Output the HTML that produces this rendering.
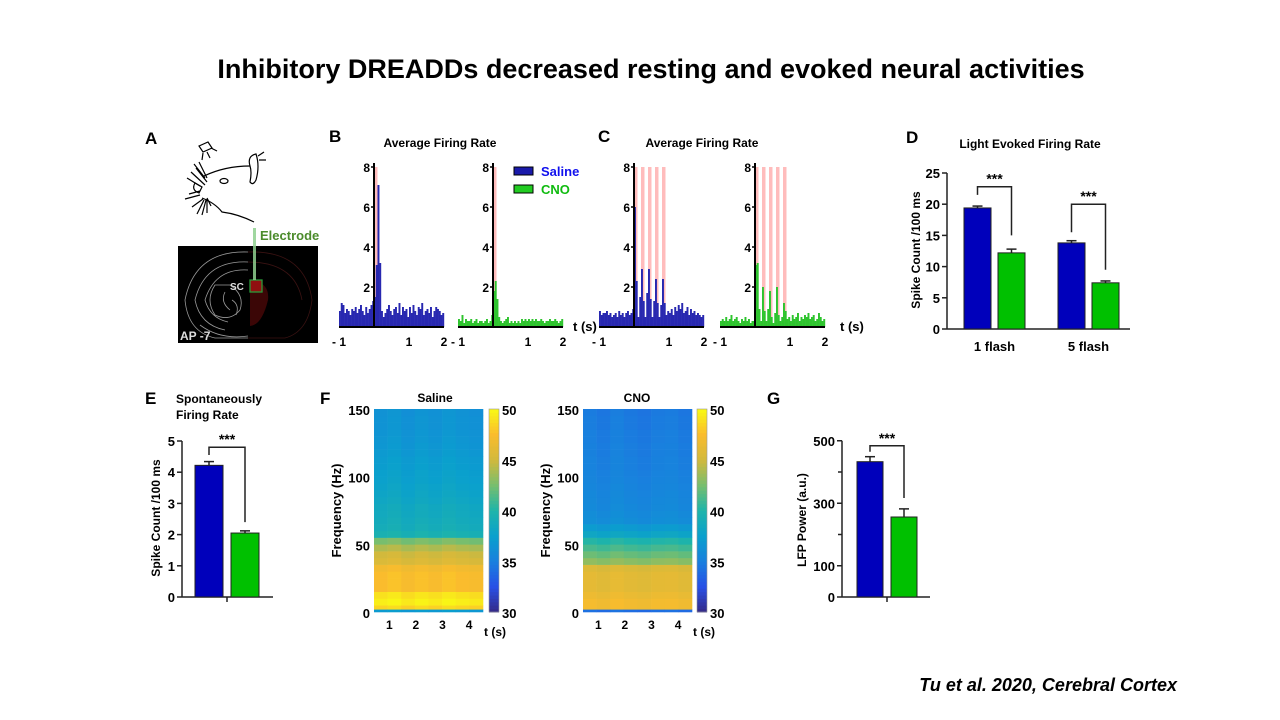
<!DOCTYPE html>
<html><head><meta charset="utf-8"><style>
body{margin:0;background:#fff}
svg{display:block;font-family:"Liberation Sans",Arial,sans-serif}
.b{font-weight:bold}
</style></head><body>
<svg id="s" width="1280" height="720" viewBox="0 0 1280 720">
<text x="651" y="78" text-anchor="middle" class="b" font-size="27">Inhibitory DREADDs decreased resting and evoked neural activities</text>
<g class="b" font-size="17">
<text x="145" y="144">A</text><text x="329" y="142">B</text><text x="598" y="142">C</text><text x="906" y="143">D</text>
<text x="145" y="404">E</text><text x="320" y="404">F</text><text x="767" y="404">G</text></g>
<g id="mouse" fill="none" stroke="#000" stroke-width="1.2">
<path d="M199 146 L208 142 L212 148 L203 152 Z"/><path d="M203 153 L202 160 M207 152 L210 158 M211 148 L217 151"/>
<path d="M204 176 Q225 166 250 166"/>
<path d="M250 166 Q247 156 256 154 Q260 166 256 180 Q253 186 250 182 Q252 172 250 166"/>
<path d="M258 156 L264 152 M259 160 L266 160"/>
<ellipse cx="224" cy="181" rx="4" ry="2.5"/><path d="M195 183 Q191 190 199 193 L202 187 Z"/>
<path d="M202 198 Q215 203 222 212 Q238 214 254 222"/>
<path d="M196 168 L207 182 M191 172 L205 185 M187 178 L200 186 M189 194 L200 191 M185 199 L200 195 M192 207 L203 199 M197 214 L204 200 M202 215 L206 200 M207 213 L207 199 M211 206 L207 198 M194 164 L205 178 M199 162 L207 178"/>
</g>
<g>
<rect x="178" y="246" width="140" height="97" fill="#000"/>
<g fill="none" stroke="#999" stroke-width="0.8">
<path d="M248 252 Q195 250 185 300 Q188 332 215 338 L248 338"/>
<path d="M248 262 Q205 260 195 300 Q200 325 225 330"/>
<path d="M248 270 Q215 268 205 300 Q210 318 228 322"/>
<path d="M215 285 Q205 300 215 315 Q230 322 240 310 Q245 295 230 285 Z"/>
<path d="M225 292 Q220 302 230 310 M232 300 Q240 305 236 315"/>
<path d="M200 325 Q220 340 248 336"/>
</g>
<g fill="none" stroke="#3a1212" stroke-width="0.8"><path d="M248 252 Q305 250 312 300 Q308 332 285 338 L248 338"/><path d="M248 262 Q295 262 302 300"/></g>
<path d="M250 280 Q270 282 268 300 Q262 325 250 326 Z" fill="#4a0808" opacity="0.8"/>
<rect x="250" y="280" width="12" height="12" fill="#901010" stroke="#2a9a3a" stroke-width="1.3"/>
<rect x="253" y="228" width="3" height="52" fill="#8fd08f" opacity="0.85"/>
<text x="230" y="290" fill="#ddd" class="b" font-size="10">SC</text>
<text x="180" y="340" fill="#ddd" class="b" font-size="12">AP -7</text>
<text x="260" y="240" fill="#4b8b2b" class="b" font-size="13">Electrode</text>
</g>
<text x="440" y="147" text-anchor="middle" class="b" font-size="12">Average Firing Rate</text>
<text x="702" y="147" text-anchor="middle" class="b" font-size="12">Average Firing Rate</text>
<g>
<rect x="514" y="167" width="19" height="8" fill="#1a1aaa" stroke="#000"/><text x="541" y="176" fill="#1010ee" class="b" font-size="13">Saline</text>
<rect x="514" y="185" width="19" height="8" fill="#22cc22" stroke="#000"/><text x="541" y="194" fill="#10bb10" class="b" font-size="13">CNO</text>
</g>
<text x="573" y="331" class="b" font-size="13">t (s)</text><text x="840" y="331" class="b" font-size="13">t (s)</text>
<text x="1030" y="148" text-anchor="middle" class="b" font-size="12">Light Evoked Firing Rate</text>
<text x="176" y="403" class="b" font-size="12">Spontaneously</text>
<text x="176" y="419" class="b" font-size="12">Firing Rate</text>
<text x="435" y="402" text-anchor="middle" class="b" font-size="12">Saline</text>
<text x="637" y="402" text-anchor="middle" class="b" font-size="12">CNO</text>
<text x="1177" y="691" text-anchor="end" class="b" font-style="italic" font-size="18">Tu et al. 2020, Cerebral Cortex</text>
</svg>
<script>
// ---- histogram data (bin 0.05 s, t from -1 to 2) ----
const binWidth = 0.05;
const bSaline = [0.8,1.2,1.1,0.7,0.9,0.8,0.6,0.9,0.8,1.0,0.7,0.9,1.1,0.8,0.6,1.0,0.7,0.9,1.1,1.3,1.5,3.1,7.1,3.2,0.8,0.5,0.7,0.9,1.1,0.8,0.6,0.9,1.0,0.7,1.2,0.6,1.0,0.8,0.9,0.5,1.0,0.7,1.1,0.8,0.6,1.0,0.9,1.2,0.6,0.8,0.9,0.7,1.0,0.5,0.8,1.0,0.9,0.8,0.6,0.7];
const bCNO = [0.4,0.3,0.6,0.2,0.4,0.3,0.3,0.4,0.2,0.3,0.4,0.2,0.3,0.3,0.2,0.3,0.4,0.2,0.3,0.6,1.8,2.3,1.4,0.5,0.3,0.2,0.3,0.4,0.5,0.2,0.3,0.2,0.3,0.2,0.3,0.2,0.4,0.3,0.4,0.3,0.4,0.3,0.4,0.3,0.4,0.3,0.3,0.4,0.3,0.2,0.3,0.3,0.4,0.3,0.3,0.4,0.3,0.2,0.3,0.4];
const cSaline = [0.8,0.6,0.7,0.7,0.8,0.6,0.7,0.5,0.6,0.7,0.5,0.8,0.6,0.7,0.5,0.7,0.8,0.6,0.7,0.9,6.0,2.3,0.5,1.5,2.9,1.3,0.5,1.7,2.9,1.4,0.5,1.3,2.4,1.2,0.5,1.1,2.4,1.2,0.6,0.8,0.7,0.9,0.6,1.0,0.8,1.1,0.9,1.2,0.7,0.8,1.0,0.6,0.9,0.7,0.8,0.6,0.7,0.6,0.5,0.6];
const cCNO = [0.3,0.4,0.3,0.5,0.3,0.4,0.6,0.3,0.4,0.5,0.3,0.2,0.4,0.3,0.5,0.3,0.4,0.2,0.3,0.3,3.1,3.2,0.9,0.3,2.0,0.8,0.3,0.9,1.8,0.5,0.2,0.7,2.0,0.6,0.3,0.5,1.2,0.8,0.4,0.5,0.3,0.6,0.4,0.5,0.7,0.3,0.5,0.4,0.6,0.5,0.7,0.4,0.5,0.6,0.3,0.4,0.7,0.5,0.3,0.4];
const flashB = [0];
const flashC = [0,0.2,0.4,0.6,0.8];
const histYTicks = [2,4,6,8];
const histXTicks = [-1,1,2];
// ---- bar chart data ----
const dGroups = ["1 flash","5 flash"];
const dSaline = [19.4,13.8], dSalineErr = [0.3,0.35];
const dCNO = [12.2,7.4], dCNOErr = [0.6,0.3];
const dTicks = [0,5,10,15,20,25];
const eSaline = [4.22], eSalineErr = [0.12], eCNO = [2.05], eCNOErr = [0.07];
const eTicks = [0,1,2,3,4,5];
const gSaline = [433], gSalineErr = [16], gCNO = [256], gCNOErr = [26];
const gTicks = [0,100,300,500], gMinor = [200,400];
// ---- spectrogram data (dB) ----
const freqEdges = [0,2,5,10,15,20,25,30,35,40,45,50,55,60,65,70,75,80,85,90,95,100,105,110,115,120,125,130,135,140,145,150];
const salineProfile = [37,48.5,49.5,49,47.5,47.5,47.5,47,45.5,45,44,42.5,39.5,39,38.8,38.6,38.5,38.2,38,37.8,37.6,37.5,37.3,37.2,37,36.8,36.7,36.6,36.5,36.5,36.4];
const cnoProfile = [34,47,47,46.5,46,46,46,45.5,43,42,41,40,38,37,36,35.8,35.6,35.5,35.4,35.3,35.2,35.1,35,35,34.9,34.9,34.8,34.8,34.7,34.7,34.6];
const salineTime = [0,0.3,-0.2,0.2,-0.1,0.3,0,-0.2];
const cnoTime = [0.2,-0.1,0.3,0,-0.2,0.1,0.2,-0.1];
const specXTicks = [1,2,3,4], specYTicks = [0,50,100,150], cbarTicks = [30,35,40,45,50];

const S = document.getElementById('s'), NS = 'http://www.w3.org/2000/svg';
function el(tag, attrs, parent, txt){const e=document.createElementNS(NS,tag);for(const k in attrs)e.setAttribute(k,attrs[k]);if(txt!==undefined)e.textContent=txt;(parent||S).appendChild(e);return e;}
function grp(name){const g=el('g',{});return g;}

function hist(ax, data, flashes, color, name){
  const g = grp(name);
  const x = t => ax + t*35, y = v => 327 - v*20;
  flashes.forEach(f=>{const r=el('rect',{x:x(f),y:y(8),width:x(f+0.1)-x(f),height:y(0)-y(8),fill:'#ffb0b0',opacity:0.85},g);
    });
  data.forEach((v,i)=>{const t=-1+i*binWidth;const r=el('rect',{x:x(t),y:y(v),width:x(t+binWidth)-x(t)+0.2,height:y(0)-y(v),fill:color},g);
    });
  el('line',{x1:x(-1),x2:x(2),y1:y(0),y2:y(0),stroke:'#000','stroke-width':2},g);
  el('line',{x1:ax,x2:ax,y1:y(0),y2:y(8.2),stroke:'#000','stroke-width':2},g);
  histYTicks.forEach(v=>{el('line',{x1:ax-3,x2:ax,y1:y(v),y2:y(v),stroke:'#000','stroke-width':1.5},g);
    el('text',{x:ax-4,y:y(v)+5,'text-anchor':'end','font-size':12,'font-weight':'bold'},g,v);});
  histXTicks.forEach(t=>{el('text',{x:x(t),y:346,'text-anchor':'middle','font-size':12,'font-weight':'bold'},g,t<0?'- '+(-t):t);});
}
hist(374,bSaline,flashB,'#2828b0','hist-b-saline');
hist(493,bCNO,flashB,'#2ec42e','hist-b-cno');
hist(634,cSaline,flashC,'#2828b0','hist-c-saline');
hist(755,cCNO,flashC,'#2ec42e','hist-c-cno');

function barChart(o){
  const g = grp(o.name);
  const y = v => o.y0 - (v-0)*o.k;
  el('line',{x1:o.ax,x2:o.ax,y1:y(0),y2:y(o.max),stroke:'#222','stroke-width':1.5},g);
  el('line',{x1:o.ax,x2:o.xend,y1:y(0),y2:y(0),stroke:'#222','stroke-width':1.5},g);
  o.ticks.forEach(v=>{el('line',{x1:o.ax-5,x2:o.ax,y1:y(v),y2:y(v),stroke:'#222','stroke-width':1.5},g);
    el('text',{x:o.ax-7,y:y(v)+5,'text-anchor':'end','font-size':13,'font-weight':'bold'},g,v);});
  (o.minor||[]).forEach(v=>el('line',{x1:o.ax-4,x2:o.ax,y1:y(v),y2:y(v),stroke:'#222','stroke-width':1.5},g));
  o.sal.forEach((v,i)=>{
    const bx=o.bx[i], w=o.w;
    [[bx,v,o.salE[i],'#0000bb'],[bx+o.gap,o.cno[i],o.cnoE[i],'#00c000']].forEach(([xx,val,err,c])=>{
      el('line',{x1:xx+w/2,x2:xx+w/2,y1:y(val),y2:y(val+err),stroke:'#222','stroke-width':1.5},g);
      el('line',{x1:xx+w/2-5,x2:xx+w/2+5,y1:y(val+err),y2:y(val+err),stroke:'#222','stroke-width':1.5},g);
      const r=el('rect',{x:xx,y:y(val),width:w,height:y(0)-y(val),fill:c,stroke:'#222','stroke-width':1},g);
      
    });
    const bt=o.br[i];
    el('path',{d:`M${bx+w/2} ${y(bt[1])} V${y(bt[0])} H${bx+o.gap+w/2} V${y(bt[2])}`,fill:'none',stroke:'#222','stroke-width':1.5},g);
    el('text',{x:bx+(o.gap+w)/2,y:y(bt[0])-3,'text-anchor':'middle','font-size':14,'font-weight':'bold'},g,'***');
    if(o.groups) el('text',{x:bx+(o.gap+w)/2,y:o.y0+22,'text-anchor':'middle','font-size':13,'font-weight':'bold'},g,o.groups[i]);
    else el('line',{x1:bx+(o.gap+w)/2,x2:bx+(o.gap+w)/2,y1:o.y0,y2:o.y0+5,stroke:'#222','stroke-width':1.5},g);
  });
  const t=el('text',{transform:`translate(${o.tx},${o.ty}) rotate(-90)`,'text-anchor':'middle','font-size':12,'font-weight':'bold'},g,o.title);
  
}
barChart({name:'panel-d-chart',ax:947,y0:329,k:6.24,max:25,xend:1130,ticks:dTicks,sal:dSaline,salE:dSalineErr,cno:dCNO,cnoE:dCNOErr,bx:[964,1058],w:27,gap:34,
  br:[[22.8,21.5,15],[20,15.5,9.5]],groups:dGroups,tx:920,ty:250,title:'Spike Count /100 ms'});
barChart({name:'panel-e-chart',ax:182,y0:597,k:31.2,max:5,xend:273,ticks:eTicks,sal:eSaline,salE:eSalineErr,cno:eCNO,cnoE:eCNOErr,bx:[195],w:28,gap:36,
  br:[[4.8,4.55,2.4]],tx:160,ty:518,title:'Spike Count /100 ms'});
barChart({name:'panel-g-chart',ax:842,y0:597,k:0.3125,max:500,xend:930,ticks:gTicks,minor:gMinor,sal:gSaline,salE:gSalineErr,cno:gCNO,cnoE:gCNOErr,bx:[857],w:26,gap:34,
  br:[[484,465,317]],tx:806,ty:520,title:'LFP Power (a.u.)'});

const par=[[53,42,135],[40,80,230],[25,128,222],[10,160,205],[30,180,170],[120,190,110],[210,185,60],[250,188,45],[249,250,20]];
function cmap(v){let t=Math.max(0,Math.min(1,(v-30)/20))*8;const i=Math.min(7,Math.floor(t)),f=t-i;const a=par[i],b=par[i+1];
  return `rgb(${a.map((c,j)=>Math.round(c+(b[j]-c)*f)).join(',')})`;}
function spec(x0,x1,prof,tOff,name,cbx){
  const g=grp(name);
  const y0=612,y1=409, fy=f=>y0-(f/150)*(y0-y1);
  const cw=(x1-x0)/tOff.length;
  tOff.forEach((o,j)=>prof.forEach((v,i)=>{
    const r=el('rect',{x:x0+j*cw,y:fy(freqEdges[i+1]),width:cw+0.3,height:fy(freqEdges[i])-fy(freqEdges[i+1])+0.3,fill:cmap(v+o)},g);
    }));
  specYTicks.forEach(f=>el('text',{x:x0-4,y:fy(f)+6,'text-anchor':'end','font-size':13,'font-weight':'bold'},g,f));
  specXTicks.forEach(t=>el('text',{x:x0+(t-0.5)*(x1-x0)/4.1+2,y:629,'text-anchor':'middle','font-size':12,'font-weight':'bold'},g,t));
  el('text',{x:x1+1,y:636,'font-size':12,'font-weight':'bold'},g,'t (s)');
  const yt=el('text',{transform:`translate(${x0-33},${(y0+y1)/2}) rotate(-90)`,'text-anchor':'middle','font-size':13,'font-weight':'bold'},g,'Frequency (Hz)');
  
  const cb=grp(name+'-colorbar');
  for(let k=0;k<60;k++){const v=30+k/3;el('rect',{x:cbx,y:y0-(k+1)*(y0-y1)/60,width:10,height:(y0-y1)/60+0.5,fill:cmap(v+0.15)},cb);}
  el('rect',{x:cbx,y:y1,width:10,height:y0-y1,fill:'none',stroke:'#999','stroke-width':0.6},cb);
  cbarTicks.forEach(v=>el('text',{x:cbx+13,y:y0-(v-30)/20*(y0-y1)+6,'font-size':13,'font-weight':'bold'},cb,v));
}
spec(374,483,salineProfile,salineTime,'spectrogram-saline',489);
spec(583,692,cnoProfile,cnoTime,'spectrogram-cno',697);
</script>
</body></html>
